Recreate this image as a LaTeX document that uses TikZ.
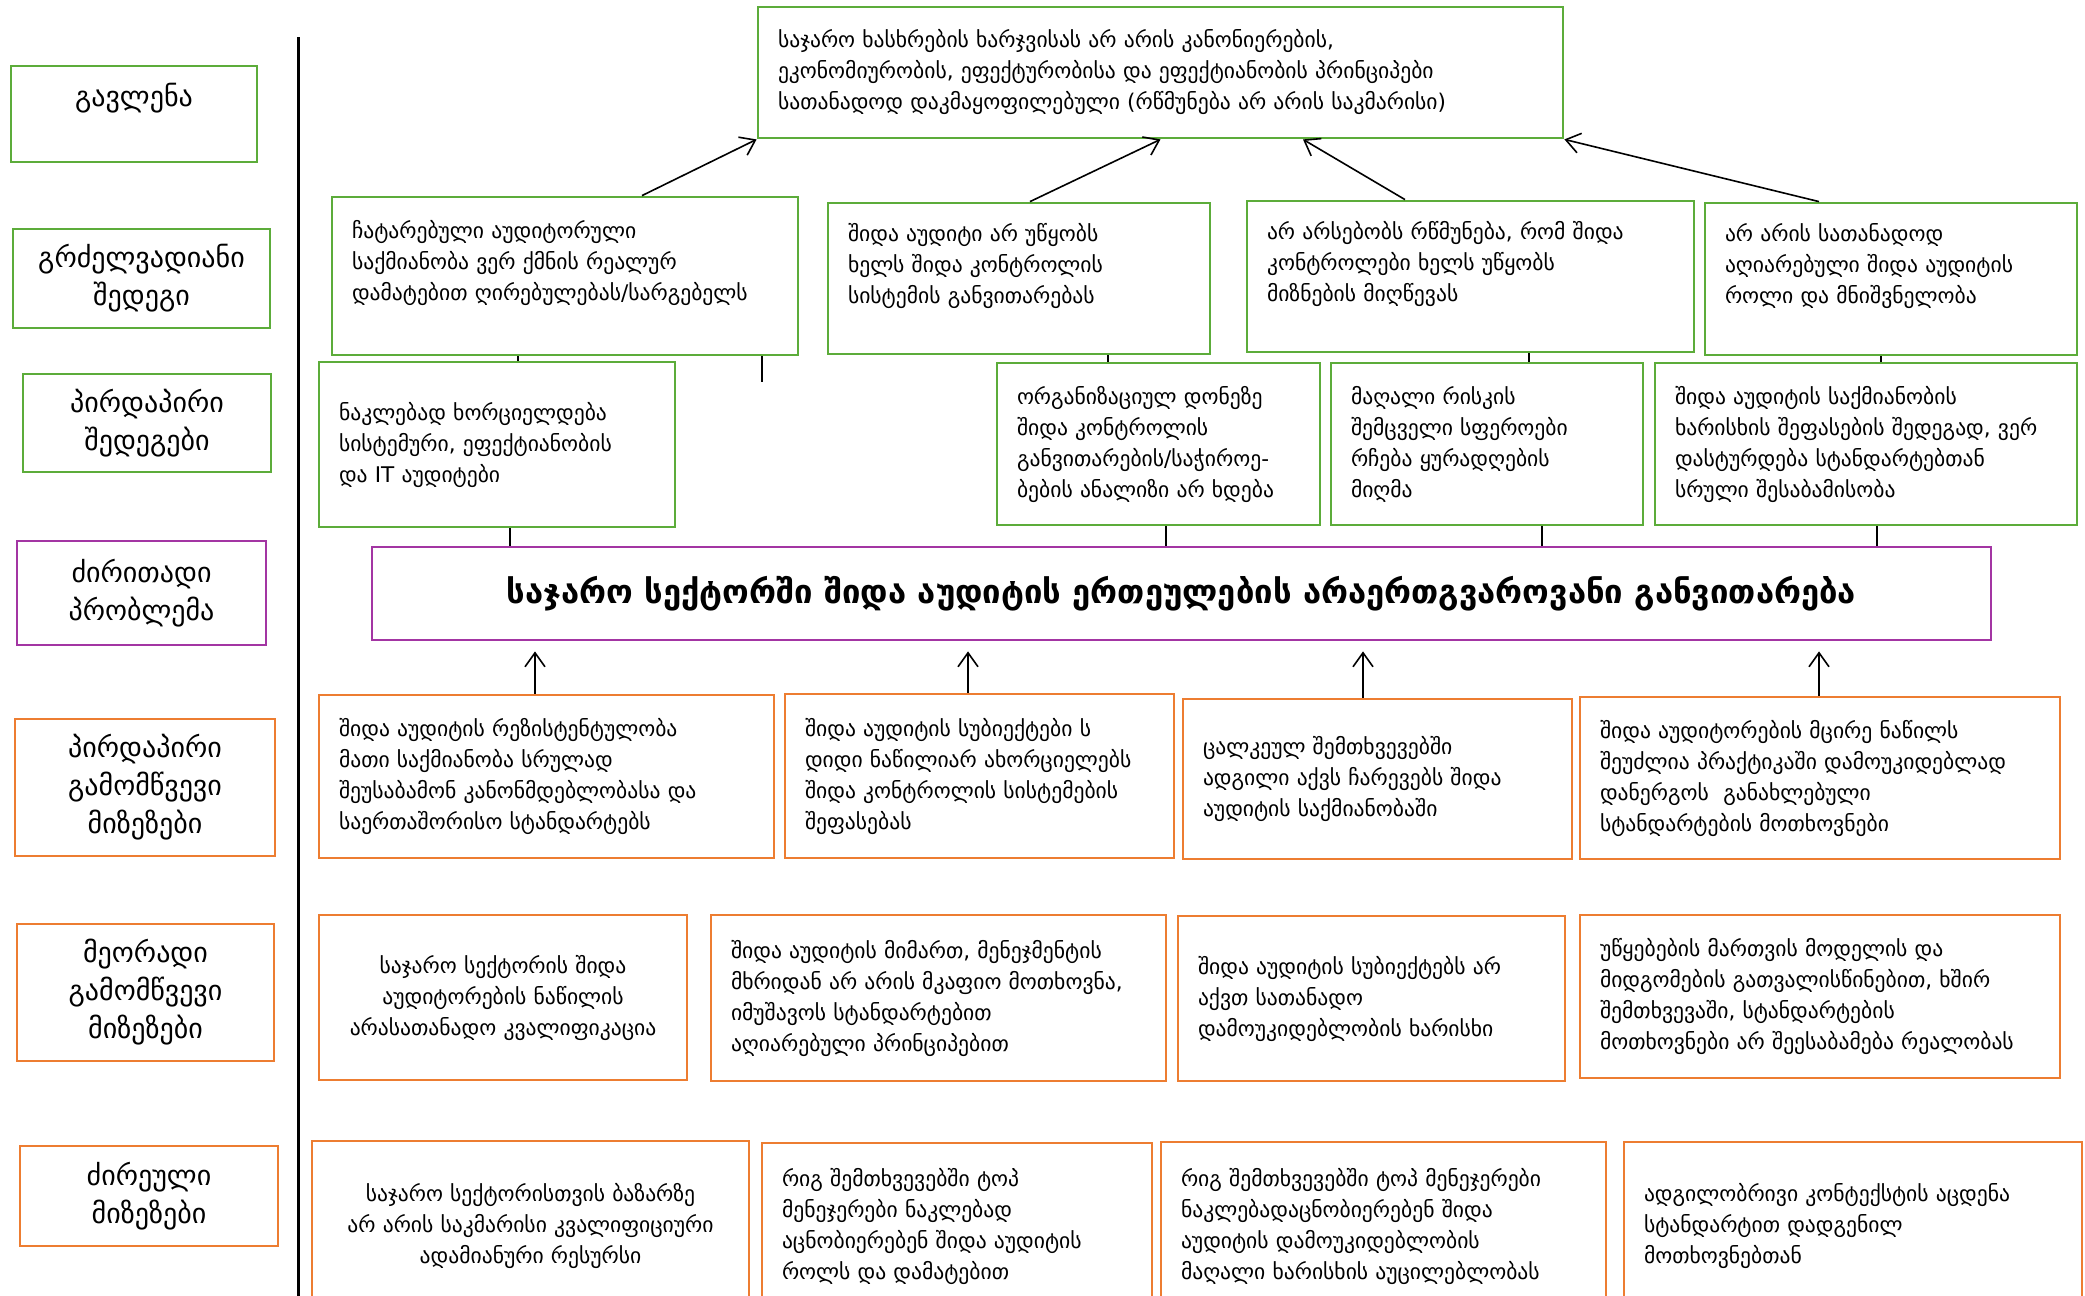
\documentclass[tikz,border=0pt]{standalone}
\usepackage{fontspec}
\setmainfont{DejaVu Sans}
\usetikzlibrary{arrows.meta,positioning,shapes}

\definecolor{resgreen}{RGB}{92,172,58}
\definecolor{causeorange}{RGB}{237,125,49}
\definecolor{probpurple}{RGB}{163,53,163}

\begin{document}
\begin{tikzpicture}[x=0.5pt, y=-0.5pt,
  lbl/.style={draw, line width=1.4pt, align=center, inner sep=2pt,
    font=\fontsize{14}{19}\selectfont},
  res/.style={draw=resgreen, line width=1.4pt, align=left, inner xsep=10pt,
    inner ysep=3pt, font=\fontsize{10.8}{15.5}\selectfont},
  cause/.style={res, draw=causeorange},
  link/.style={line width=0.8pt},
  arr/.style={->, >={Straight Barb[length=7pt, width=10pt]}, line width=0.8pt},
  up/.style={arr, shorten >=5pt}
]
  \clip (0,0) rectangle (2085,1296);

  % left column
  \node[lbl, draw=resgreen, minimum width=123pt, minimum height=48pt] (L1) at (134,114) {გავლენა\\ ~};
  \node[lbl, draw=resgreen, minimum width=128.5pt, minimum height=49.5pt] (L2) at (141.5,278.5) {გრძელვადიანი\\ შედეგი};
  \node[lbl, draw=resgreen, minimum width=124pt, minimum height=49pt] (L3) at (147,423) {პირდაპირი\\ შედეგები};
  \node[lbl, draw=probpurple, minimum width=124.5pt, minimum height=52pt] (L4) at (141.5,593) {ძირითადი\\ პრობლემა};
  \node[lbl, draw=causeorange, minimum width=130pt, minimum height=68.5pt] (L5) at (145,787.5) {პირდაპირი\\ გამომწვევი\\ მიზეზები};
  \node[lbl, draw=causeorange, minimum width=128.5pt, minimum height=68.5pt] (L6) at (145.5,992.5) {მეორადი\\ გამომწვევი\\ მიზეზები};
  \node[lbl, draw=causeorange, minimum width=129pt, minimum height=50pt] (L7) at (149,1196) {ძირეული\\ მიზეზები};

  \coordinate (sep top) at (298,37);
  \coordinate (sep bottom) at (298,1296);
  \draw[line width=1.5pt] (sep top) -- (sep bottom);

  % impact
  \node[res, text width=382.5pt, minimum height=65.5pt] (A) at (1160.5,72.5) {საჯარო ხასხრების ხარჯვისას არ არის კანონიერების,\\ ეკონომიურობის, ეფექტურობისა და ეფექტიანობის პრინციპები\\ სათანადოდ დაკმაყოფილებული (რწმუნება არ არის საკმარისი)};

  % long-term results
  \node[res, text width=213pt, minimum height=79pt] (B1) at (565,276) {ჩატარებული აუდიტორული\\ საქმიანობა ვერ ქმნის რეალურ\\ დამატებით ღირებულებას/სარგებელს\\ ~};
  \node[res, text width=171pt, minimum height=75.5pt] (B2) at (1019,278.5) {შიდა აუდიტი არ უწყობს\\ ხელს შიდა კონტროლის\\ სისტემის განვითარებას\\ ~};
  \node[res, text width=203.5pt, minimum height=75.5pt] (B3) at (1470.5,276.5) {არ არსებობს რწმუნება, რომ შიდა\\ კონტროლები ხელს უწყობს\\ მიზნების მიღწევას\\ ~};
  \node[res, text width=166pt, minimum height=76pt] (B4) at (1891,279) {არ არის სათანადოდ\\ აღიარებული შიდა აუდიტის\\ როლი და მნიშვნელობა\\ ~};

  \draw[arr] ([xshift=38.5pt]B1.north) -- (A.south west);
  \draw[arr] ([xshift=5.5pt]B2.north) -- (A.south);
  \draw[arr] ([xshift=-32.75pt]B3.north) -- ([xshift=71.25pt]A.south);
  \draw[arr] ([xshift=-36pt]B4.north) -- (A.south east);

  % direct results
  \node[res, text width=158pt, minimum height=82.5pt] (C1) at (497,444.5) {ნაკლებად ხორციელდება\\ სისტემური, ეფექტიანობის\\ და IT აუდიტები};
  \node[res, text width=141.5pt, minimum height=81pt] (C2) at (1158.5,444) {ორგანიზაციულ დონეზე\\ შიდა კონტროლის\\ განვითარების/საჭიროე-\\ ბების ანალიზი არ ხდება};
  \node[res, text width=136pt, minimum height=81pt] (C3) at (1487,444) {მაღალი რისკის\\ შემცველი სფეროები\\ რჩება ყურადღების\\ მიღმა};
  \node[res, text width=191pt, minimum height=81pt] (C4) at (1866,444) {შიდა აუდიტის საქმიანობის\\ ხარისხის შეფასების შედეგად, ვერ\\ დასტურდება სტანდარტებთან\\ სრული შესაბამისობა};

  \draw[link] ([xshift=-23.5pt]B1.south) -- ([xshift=10.5pt]C1.north);
  \draw[link] ([xshift=98.5pt]B1.south) -- ++(0,26);
  \draw[link] ([xshift=44.5pt]B2.south) -- ([xshift=-25.25pt]C2.north);
  \draw[link] ([xshift=29.25pt]B3.south) -- ([xshift=21pt]C3.north);
  \draw[link] ([xshift=-5pt]B4.south) -- ([xshift=7.5pt]C4.north);

  % core problem
  \node[draw=probpurple, line width=1.4pt, minimum width=809.5pt, minimum height=46.5pt,
    font=\bfseries\fontsize{16.4}{20}\selectfont] (M) at (1181.5,593.5)
    {საჯარო სექტორში შიდა აუდიტის ერთეულების არაერთგვაროვანი განვითარება};

  \draw[link] ([xshift=6.5pt]C1.south) -- ([xshift=-335.75pt]M.north);
  \draw[link] ([xshift=3.75pt]C2.south) -- ([xshift=-7.75pt]M.north);
  \draw[link] ([xshift=27.5pt]C3.south) -- ([xshift=180.25pt]M.north);
  \draw[link] ([xshift=5.5pt]C4.south) -- ([xshift=347.75pt]M.north);

  % direct causes
  \node[cause, text width=207.5pt, minimum height=81.5pt] (D1) at (546.5,776.5) {შიდა აუდიტის რეზისტენტულობა\\ მათი საქმიანობა სრულად\\ შეუსაბამონ კანონმდებლობასა და\\ საერთაშორისო სტანდარტებს};
  \node[cause, text width=174.5pt, minimum height=82pt] (D2) at (979.5,776) {შიდა აუდიტის სუბიექტები ს\\ დიდი ნაწილიარ ახორციელებს\\ შიდა კონტროლის სისტემების\\ შეფასებას};
  \node[cause, text width=174.5pt, minimum height=80pt] (D3) at (1377.5,779) {ცალკეულ შემთხვევებში\\ ადგილი აქვს ჩარევებს შიდა\\ აუდიტის საქმიანობაში};
  \node[cause, text width=220pt, minimum height=81pt] (D4) at (1820,778) {შიდა აუდიტორების მცირე ნაწილს\\ შეუძლია პრაქტიკაში დამოუკიდებლად\\ დანერგოს~ განახლებული\\ სტანდარტების მოთხოვნები};

  \draw[up] ([xshift=-5.75pt]D1.north) -- ([xshift=-323.25pt]M.south);
  \draw[up] ([xshift=-5.75pt]D2.north) -- ([xshift=-106.75pt]M.south);
  \draw[up] ([xshift=-7.25pt]D3.north) -- ([xshift=90.75pt]M.south);
  \draw[up] ([xshift=-0.5pt]D4.north) -- ([xshift=318.75pt]M.south);

  % secondary causes
  \node[cause, align=center, text width=164pt, minimum height=82.5pt] (E1) at (503,997.5) {საჯარო სექტორის შიდა\\ აუდიტორების ნაწილის\\ არასათანადო კვალიფიკაცია};
  \node[cause, text width=207.5pt, minimum height=83pt] (E2) at (938.5,998) {შიდა აუდიტის მიმართ, მენეჯმენტის\\ მხრიდან არ არის მკაფიო მოთხოვნა,\\ იმუშავოს სტანდარტებით\\ აღიარებული პრინციპებით};
  \node[cause, text width=173.5pt, minimum height=82.5pt] (E3) at (1371.5,998.5) {შიდა აუდიტის სუბიექტებს არ\\ აქვთ სათანადო\\ დამოუკიდებლობის ხარისხი};
  \node[cause, text width=220pt, minimum height=81.5pt] (E4) at (1820,996.5) {უწყებების მართვის მოდელის და\\ მიდგომების გათვალისწინებით, ხშირ\\ შემთხვევაში, სტანდარტების\\ მოთხოვნები არ შეესაბამება რეალობას};

  % root causes
  \node[cause, align=center, text width=198.5pt, minimum height=84.5pt] (F1) at (530.5,1225.5) {საჯარო სექტორისთვის ბაზარზე\\ არ არის საკმარისი კვალიფიციური\\ ადამიანური რესურსი};
  \node[cause, text width=175pt, minimum height=83.5pt] (F2) at (957,1226.5) {რიგ შემთხვევებში ტოპ\\ მენეჯერები ნაკლებად\\ აცნობიერებენ შიდა აუდიტის\\ როლს და დამატებით};
  \node[cause, text width=202.5pt, minimum height=84pt] (F3) at (1383.5,1226) {რიგ შემთხვევებში ტოპ მენეჯერები\\ ნაკლებადაცნობიერებენ შიდა\\ აუდიტის დამოუკიდებლობის\\ მაღალი ხარისხის აუცილებლობას};
  \node[cause, text width=209pt, minimum height=84pt] (F4) at (1853,1226) {ადგილობრივი კონტექსტის აცდენა\\ სტანდარტით დადგენილ\\ მოთხოვნებთან};
\end{tikzpicture}
\end{document}
